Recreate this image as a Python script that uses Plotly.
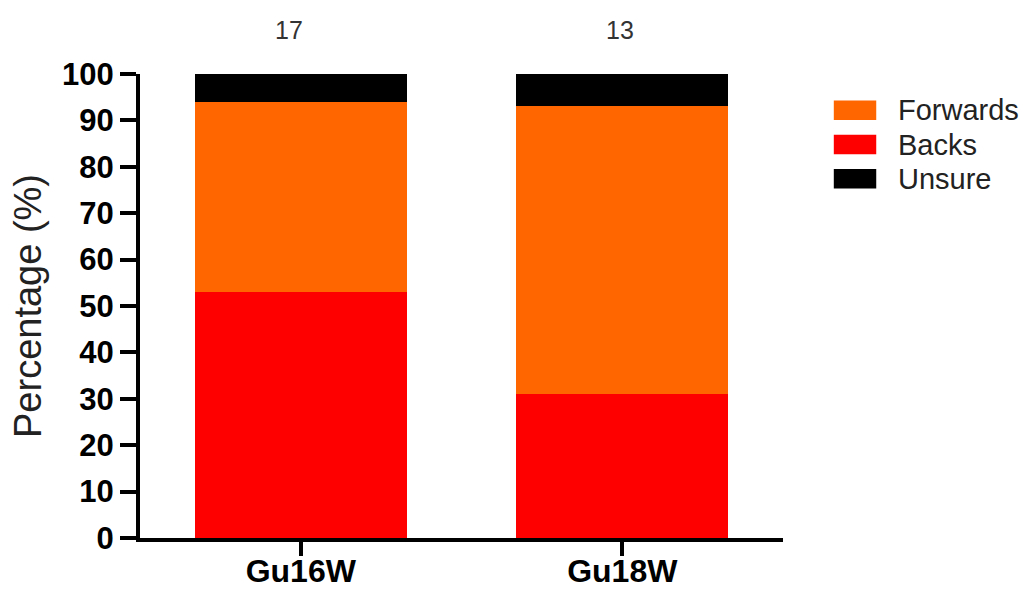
import plotly.graph_objects as go

categories = ["Gu16W", "Gu18W"]
backs = [53, 31]
forwards = [41, 62]
unsure = [6, 7]
n_counts = ["17", "13"]
legend_order = ["Forwards", "Backs", "Unsure"]
colors = {"Backs": "#FF0000", "Forwards": "#FF6600", "Unsure": "#000000"}
series = {"Backs": backs, "Forwards": forwards, "Unsure": unsure}
y_ticks = list(range(0, 101, 10))

FONT = "Liberation Sans, Arial, sans-serif"

fig = go.Figure()
for name in ["Backs", "Forwards", "Unsure"]:
    fig.add_trace(go.Bar(
        x=categories, y=series[name], name=name,
        marker=dict(color=colors[name], line=dict(width=0)),
        showlegend=False,
    ))

# counts above bars
for cat, n, xs in zip(categories, n_counts, [-12, -2]):
    fig.add_annotation(x=cat, y=1.0, yref="paper", yshift=44, xshift=xs,
                       yanchor="middle",
                       text=n, showarrow=False,
                       font=dict(family=FONT, size=25, color="#333333"))

# custom legend
for i, name in enumerate(legend_order):
    yc = 0.922 - i * 0.074
    fig.add_shape(type="rect", xref="paper", yref="paper",
                  x0=1.079, x1=1.145, y0=yc - 0.021, y1=yc + 0.021,
                  fillcolor=colors[name], line=dict(width=0))
    fig.add_annotation(xref="paper", yref="paper", x=1.176, y=yc,
                       text=name, showarrow=False, xanchor="left",
                       yanchor="middle",
                       font=dict(family=FONT, size=29, color="#222222"))

fig.update_layout(
    width=1031, height=591,
    margin=dict(l=140, r=248, t=74, b=53),
    paper_bgcolor="white", plot_bgcolor="white",
    barmode="stack", bargap=0.34,
    font=dict(family=FONT),
)
fig.update_xaxes(
    automargin=False,
    showline=True, linecolor="black", linewidth=4,
    ticks="outside", ticklen=14, tickwidth=4, tickcolor="black",
    tickfont=dict(family=FONT, size=32, color="black", weight="bold"),
    ticklabelstandoff=-12,
    showgrid=False, range=[-0.5, 1.5],
)
fig.update_yaxes(
    automargin=False,
    range=[0, 100], tickvals=y_ticks,
    showline=True, linecolor="black", linewidth=4,
    ticks="outside", ticklen=16, tickwidth=4, tickcolor="black",
    tickfont=dict(family=FONT, size=31, color="black", weight="bold"),
    showgrid=False, zeroline=False,
    title=dict(text="Percentage (%)", font=dict(family=FONT, size=38, color="#222222"),
               standoff=10),
)

fig.write_html(
    "out.html",
    config={"displayModeBar": False},
    post_script="document.body.style.margin='0';document.body.style.overflow='hidden';",
)
